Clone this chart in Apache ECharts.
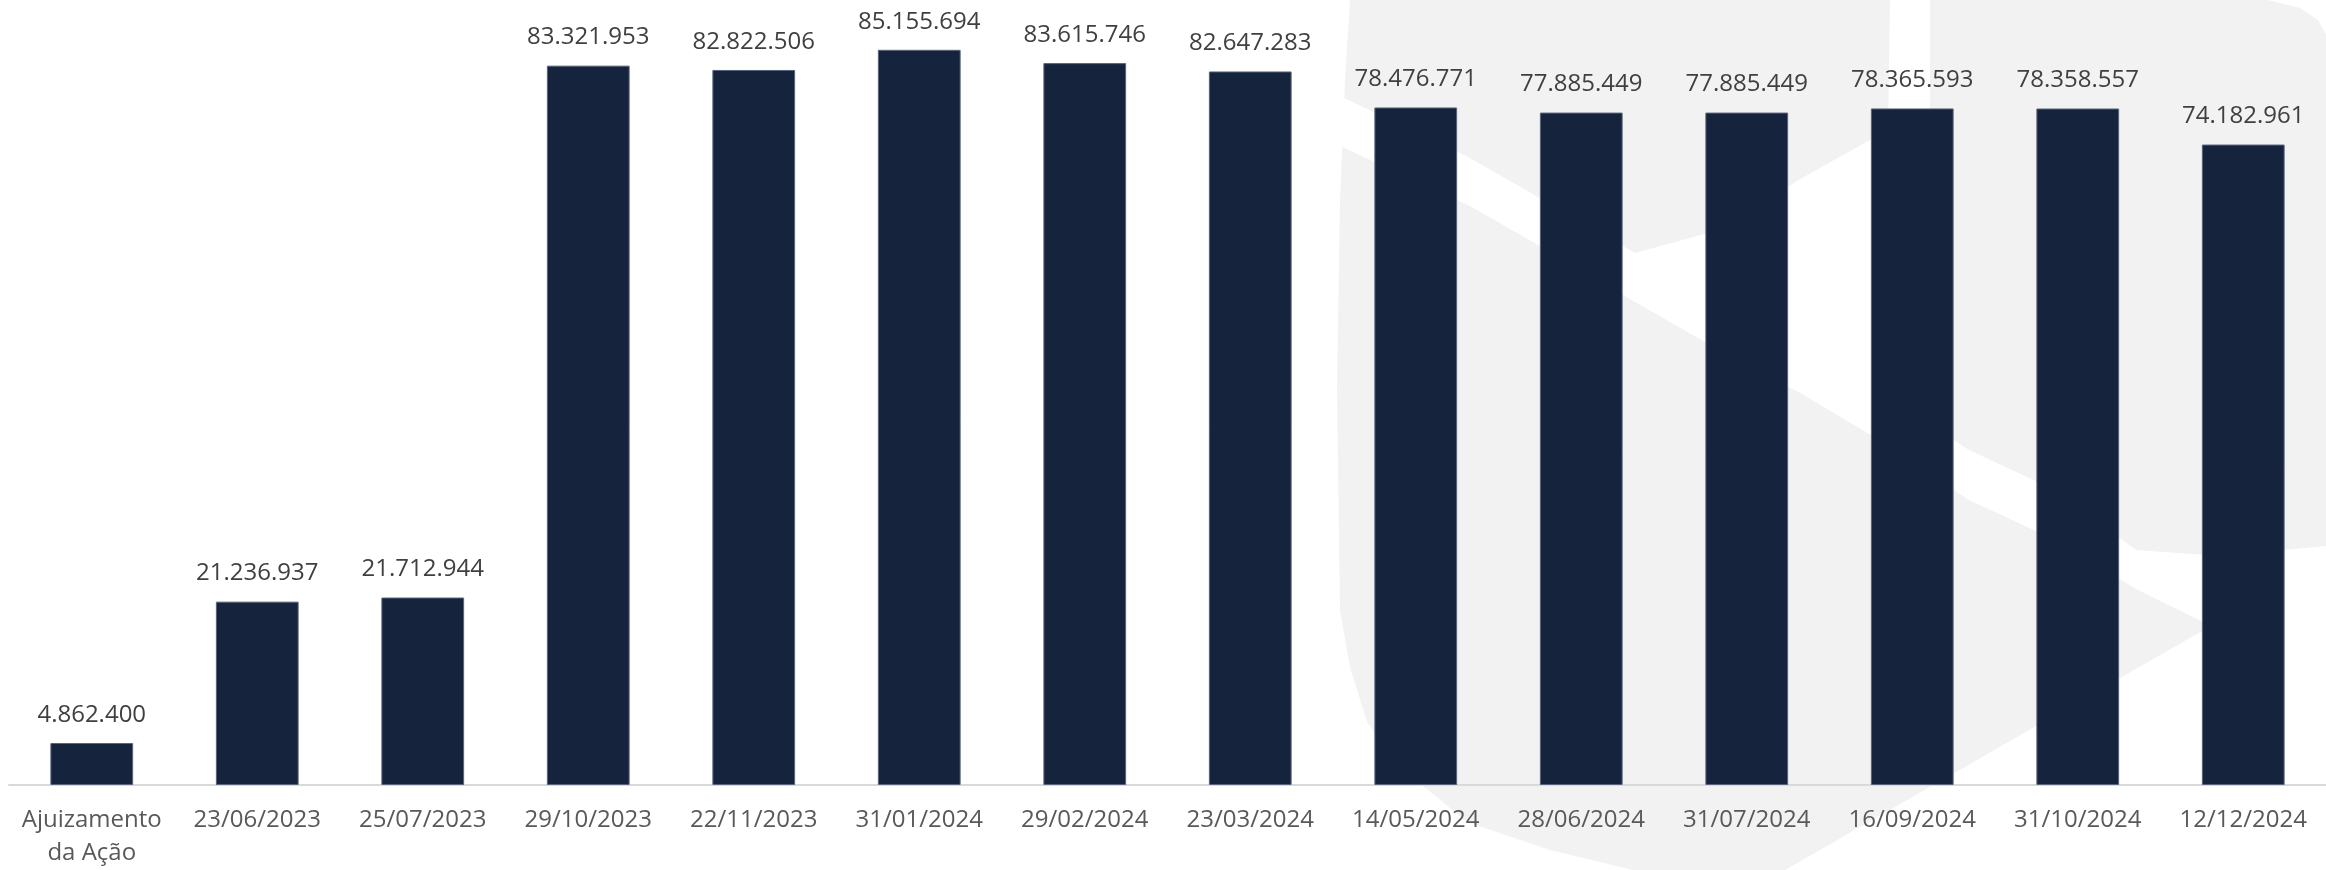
<!DOCTYPE html>
<html>
<head>
<meta charset="utf-8">
<script src="https://cdn.jsdelivr.net/npm/echarts@6/dist/echarts.min.js"></script>
<style>
html,body{margin:0;padding:0;background:#ffffff;}
#chart{width:2326px;height:870px;}
</style>
</head>
<body>
<div id="chart"></div>
<script>
const categories = ['Ajuizamento\nda Ação','23/06/2023','25/07/2023','29/10/2023','22/11/2023','31/01/2024','29/02/2024','23/03/2024','14/05/2024','28/06/2024','31/07/2024','16/09/2024','31/10/2024','12/12/2024'];
const values = [4862400, 21236937, 21712944, 83321953, 82822506, 85155694, 83615746, 82647283, 78476771, 77885449, 77885449, 78365593, 78358557, 74182961];

function fmt(v){ return String(v).replace(/\B(?=(\d{3})+(?!\d))/g, '.'); }

const FONT = '"Open Sans", "Noto Sans", sans-serif';
const chart = echarts.init(document.getElementById('chart'), null, {renderer:'canvas'});
chart.setOption({
  animation:false,
  backgroundColor:'#ffffff',
  graphic:[
    {type:'polygon', z:-20, silent:true,
     shape:{points:[[1350,0],[2268,0],[2300,8],[2318,20],[2326,35],[2326,560],[1785,870],[1633,870],[1550,850],[1467,822],[1400,767],[1367,722],[1350,667],[1340,611],[1337,389],[1340,200],[1345,80]]},
     style:{fill:'#f2f2f2'}},
    {type:'polygon', z:-19, silent:true,
     shape:{points:[[1338,95],[1468,157],[1552,205],[1635,253],[1719,230],[1802,178],[1888,130],[1890,0],[1930,0],[1930,425],[1969,450],[2053,489],[2136,550],[2220,556],[2326,546],[2326,640],[2219,630],[2136,589],[2053,539],[1969,500],[1886,444],[1802,394],[1719,350],[1635,302],[1552,253],[1468,205],[1338,145]]},
     style:{fill:'#ffffff'}}
  ],
  grid:{left:9, right:-18, top:8, bottom:78, containLabel:false},
  xAxis:{
    type:'category',
    data:categories,
    axisLine:{show:true, lineStyle:{color:'#d9d9d9', width:2}},
    axisTick:{show:false},
    axisLabel:{color:'#595959', fontFamily:FONT, fontSize:24, lineHeight:33, margin:19, interval:0}
  },
  yAxis:{type:'value', min:0, max:90000000, show:false, splitLine:{show:false}},
  series:[{
    type:'bar',
    data:values,
    barWidth:'50%',
    itemStyle:{color:'#15243c', borderColor:'#56637a', borderWidth:1},
    label:{show:true, position:'top', distance:14, color:'#404040', fontFamily:FONT, fontSize:24, lineHeight:28,
      formatter:(p)=>fmt(p.value)}
  }]
});
</script>
</body>
</html>
